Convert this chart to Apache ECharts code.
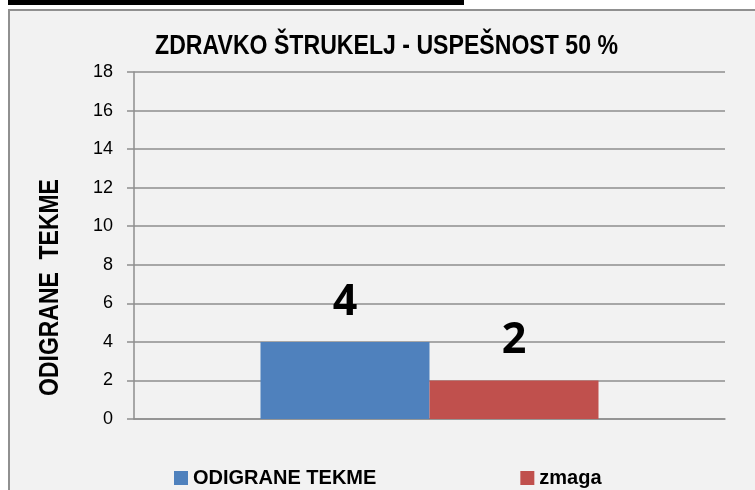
<!DOCTYPE html>
<html>
<head>
<meta charset="utf-8">
<script src="https://cdn.jsdelivr.net/npm/echarts@6/dist/echarts.min.js"></script>
<style>
  html, body { margin:0; padding:0; background:#fff; overflow:hidden; }
  body { position:relative; width:755px; height:490px; }
  #topbar { position:absolute; left:8px; top:0; width:456px; height:5px; background:#000; }
  #frame { position:absolute; left:8px; top:9px; right:0; bottom:0; background:#f2f2f2;
           border-left:2px solid #909090; border-top:2px solid #909090; }
  #chart { position:absolute; left:0; top:0; width:755px; height:490px; }
</style>
</head>
<body>
<div id="topbar"></div>
<div id="frame"></div>
<div id="chart"></div>
<script>
const titleText = 'ZDRAVKO ŠTRUKELJ - USPEŠNOST 50 %';
const yAxisTitle = 'ODIGRANE  TEKME';
const categories = [''];
const seriesNames = ['ODIGRANE TEKME', 'zmaga'];
const playedValues = [4];
const winValues = [2];
const yTicks = { min: 0, max: 18, interval: 2 };

const SANS = "'Liberation Sans', Arial, sans-serif";
const chart = echarts.init(document.getElementById('chart'), null, { renderer: 'canvas' });
const labelStyle = {
  show: true, position: 'top', distance: 18,
  fontFamily: "'Open Sans', Lato, sans-serif", fontWeight: 'bold', fontSize: 43, color: '#000'
};
chart.setOption({
  backgroundColor: 'transparent',
  animation: false,
  legend: {
    left: 169, top: 463, itemWidth: 14, itemHeight: 14, itemGap: 144,
    icon: 'rect',
    textStyle: { fontFamily: SANS, fontWeight: 'bold', fontSize: 20, color: '#000' },
    data: seriesNames
  },
  grid: { left: 134, right: 30, top: 72, bottom: 71 },
  xAxis: {
    type: 'category', data: categories,
    axisLine: { lineStyle: { color: '#8e8e8e', width: 1.5 } },
    axisTick: { show: false }, axisLabel: { show: false }
  },
  yAxis: {
    type: 'value', min: yTicks.min, max: yTicks.max, interval: yTicks.interval,
    axisLine: { show: true, lineStyle: { color: '#8e8e8e', width: 1.5 } },
    axisTick: { show: true, length: 7, lineStyle: { color: '#8e8e8e', width: 1.5 } },
    axisLabel: { margin: 21, fontFamily: SANS, fontSize: 18, color: '#000' },
    splitLine: { lineStyle: { color: '#8e8e8e', width: 1.5 } }
  },
  graphic: [{
    type: 'text', x: 386.5, y: 46.5, scaleX: 0.84,
    style: { text: titleText, fontFamily: SANS, fontWeight: 'bold', fontSize: 27.5, fill: '#000',
             align: 'center', verticalAlign: 'middle' }
  }, {
    type: 'text', x: 50.5, y: 287.5, rotation: Math.PI / 2, scaleX: 0.82,
    style: { text: yAxisTitle, fontFamily: SANS, fontWeight: 'bold', fontSize: 28, fill: '#000',
             align: 'center', verticalAlign: 'middle' }
  }],
  series: [
    { name: seriesNames[0], type: 'bar', data: playedValues, barWidth: 169, barGap: '0%',
      itemStyle: { color: '#4f81bd' }, label: labelStyle },
    { name: seriesNames[1], type: 'bar', data: winValues, barWidth: 169, barGap: '0%',
      itemStyle: { color: '#c0504d' }, label: labelStyle }
  ]
});
</script>
</body>
</html>
